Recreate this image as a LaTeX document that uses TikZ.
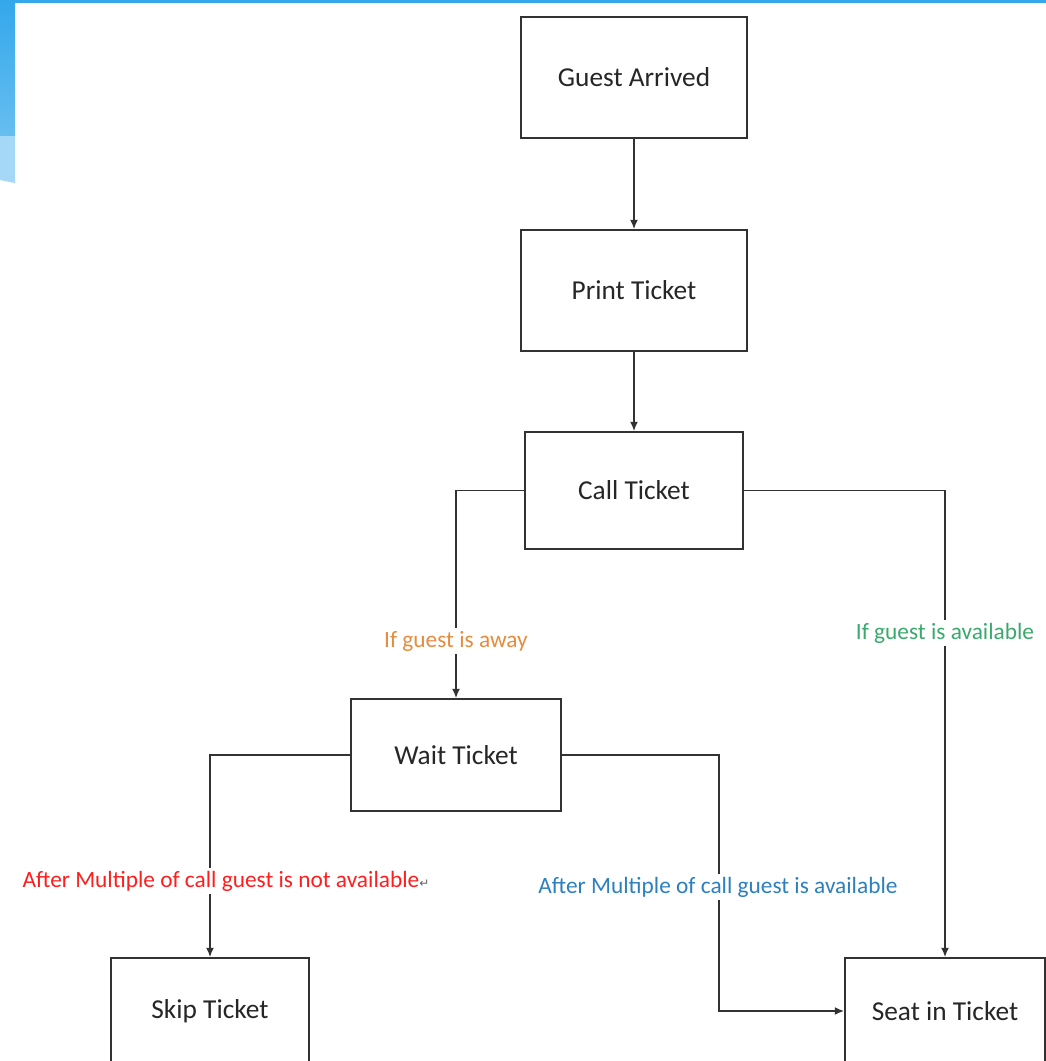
\documentclass[tikz,border=0pt]{standalone}
\usepackage{fontspec}
\setmainfont{Carlito}
\newfontfamily\symfont{DejaVu Sans}
\usetikzlibrary{arrows.meta,positioning}
\definecolor{slideblue}{RGB}{52,168,235}
\definecolor{lineGray}{RGB}{50,50,50}
\definecolor{awayOrange}{RGB}{230,140,62}
\definecolor{availGreen}{RGB}{58,170,108}
\definecolor{notRed}{RGB}{255,30,30}
\definecolor{availBlue}{RGB}{45,128,190}
\tikzstyle{stepbox}=[draw=lineGray, line width=1.3pt, fill=white, font=\fontsize{20.5}{24}\selectfont, text=black!85, text centered]
\tikzstyle{flow}=[-{Latex[length=7pt, width=6pt]}, line width=1.2pt, draw=lineGray]
\tikzstyle{cond}=[fill=white, inner sep=2pt, font=\fontsize{17.5}{21}\selectfont]

\begin{document}
\begin{tikzpicture}[x=0.75pt, y=-0.75pt]
        \useasboundingbox (0,0) rectangle (1046,1061);
        \clip (0,0) rectangle (1046,1061);
        \fill[white] (0,0) rectangle (1046,1061);

        % Cornice della slide
        \fill[slideblue] (0,0) rectangle (1046,3);
        \shade[top color=slideblue, bottom color=slideblue!75] (0,0) rectangle (15,136);
        \fill[slideblue!45] (0,136) -- (15,136) -- (15,183) -- (0,180) -- cycle;

        % Passi
        \node[stepbox, minimum width=169.5pt, minimum height=90.75pt] (arrived) at (634,77.5) {Guest Arrived};
        \node[stepbox, minimum width=169.5pt, minimum height=90.75pt] (print) at (634,290.5) {Print Ticket};
        \node[stepbox, minimum width=163.5pt, minimum height=87.75pt] (call) at (634,490.5) {Call Ticket};
        \node[stepbox, minimum width=157.5pt, minimum height=84pt] (wait) at (456,755) {Wait Ticket};
        \node[stepbox, minimum width=148.5pt, minimum height=79.5pt] (skip) at (210,1011) {Skip Ticket};
        \node[stepbox, minimum width=150pt, minimum height=79.5pt] (seat) at (945,1011) {Seat in Ticket};

        % Flusso principale
        \draw[flow] (arrived) -- (print);
        \draw[flow] (print) -- (call);

        % Ramificazioni
        \draw[flow] (call.west) -| (wait.north);
        \draw[flow] (call.east) -| (seat.north);
        \draw[flow] (wait.west) -| (skip.north);
        \draw[flow] (wait.east) -| ++(157,0) coordinate (turn) |- (seat.west);

        % Condizioni
        \node[cond, text=awayOrange] (awayLabel) at (456,641) {If guest is away};
        \node[cond, text=availGreen] (availLabel) at (945,633) {If guest is available};
        \node[cond, text=notRed] (notLabel) at (226,881) {After Multiple of call guest is not available{\symfont\fontsize{9}{10}\selectfont\textcolor{black!60}{↵}}};
        \node[cond, text=availBlue] (multiLabel) at (718,887) {After Multiple of call guest is available};
\end{tikzpicture}
\end{document}
